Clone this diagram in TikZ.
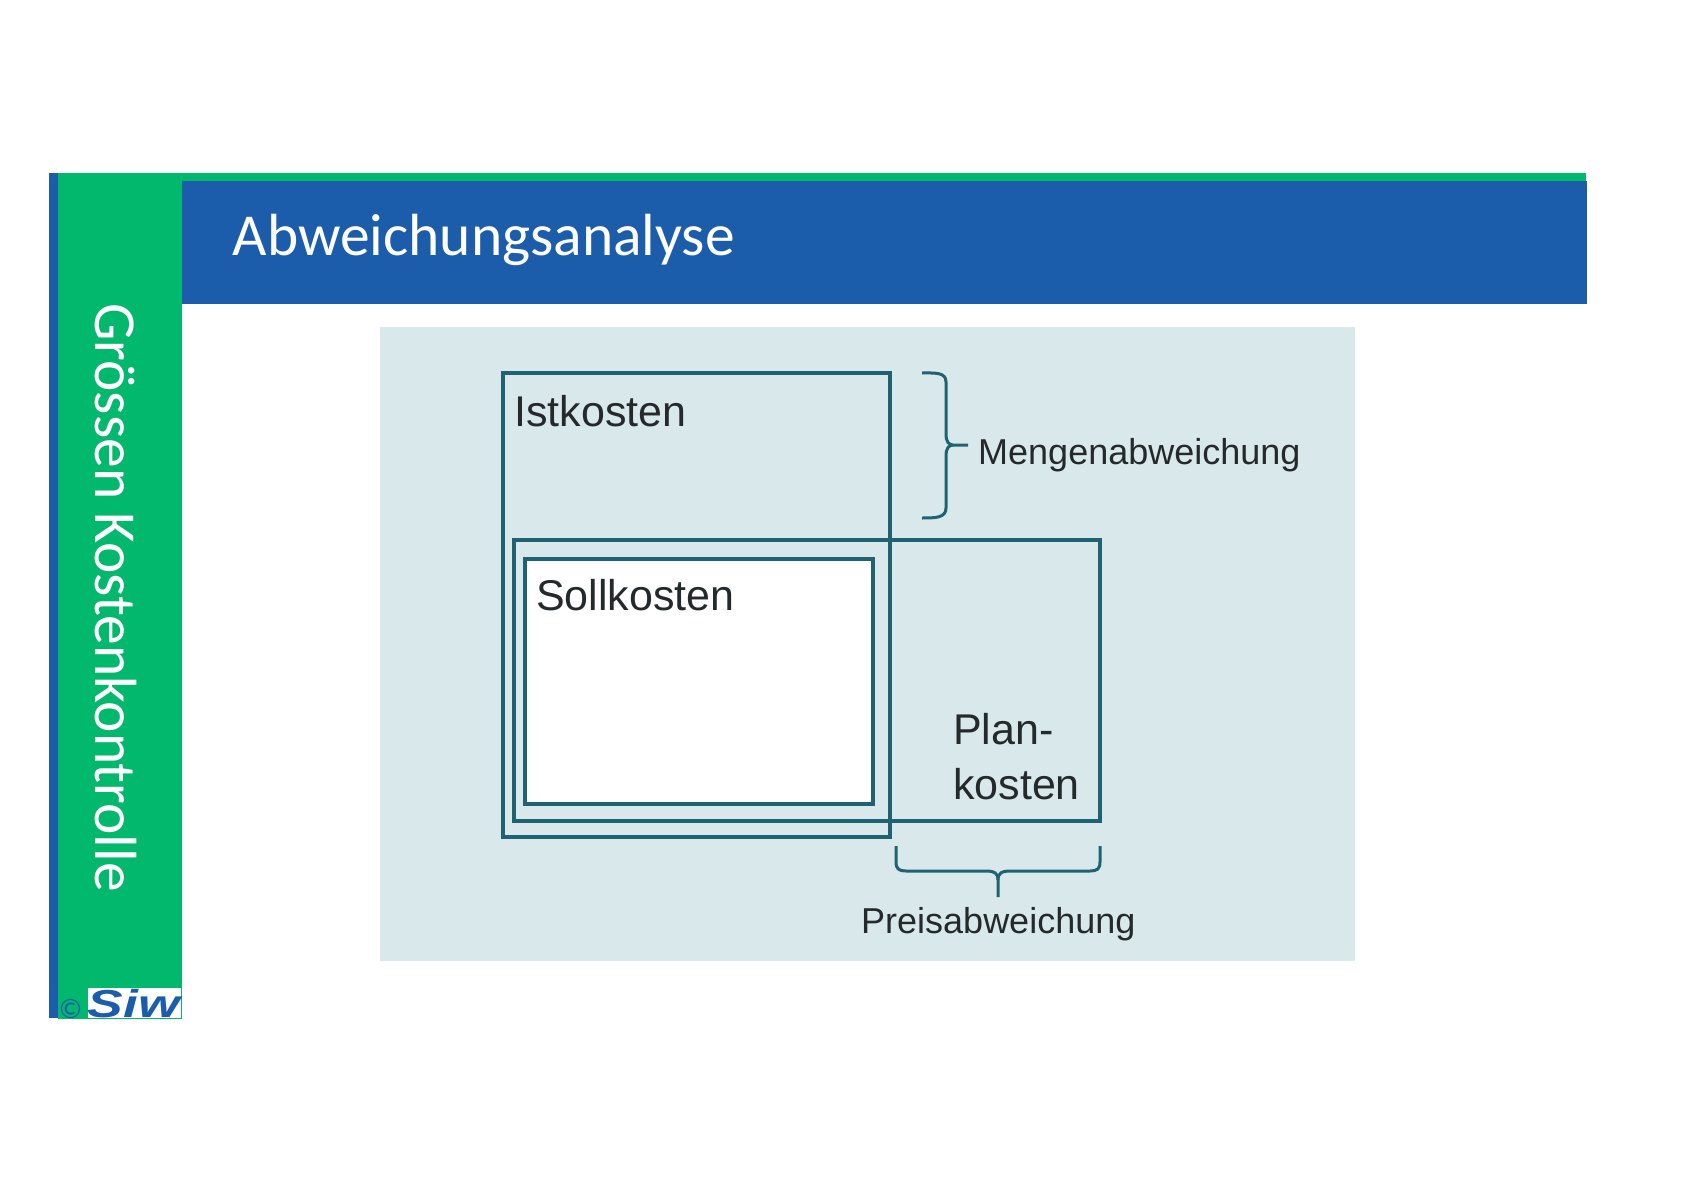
\documentclass[tikz,border=0pt]{standalone}
\usepackage{fontspec}
\setmainfont{Carlito}
\newfontfamily\figfont{Liberation Sans}
\definecolor{siwblue}{HTML}{1B5CAB}
\definecolor{siwgreen}{HTML}{02B86C}
\definecolor{figback}{HTML}{D9E9EB}
\definecolor{figline}{HTML}{1F6373}
\definecolor{figtext}{HTML}{24292C}
\tikzset{
  costbox/.style={draw=figline,line width=3.3pt,line join=miter},
  bracket/.style={draw=figline,line width=3pt},
  headtext/.style={text=white,inner sep=0pt,font=\fontsize{59.5}{60}\selectfont},
  costtext/.style={text=figtext,inner sep=0pt,anchor=base west,font=\figfont\fontsize{43}{43}\selectfont},
  bracetext/.style={text=figtext,inner sep=0pt,anchor=base west,font=\figfont\fontsize{36}{36}\selectfont}
}

\begin{document}
\begin{tikzpicture}[x=1pt,y=-1pt]
  \useasboundingbox (0,0) rectangle (1683,1190);
  \fill[white] (0,0) rectangle (1683,1190);
  % frame
  \fill[siwgreen] (58,173) rectangle (182,1019);
  \fill[siwblue] (49,173) rectangle (58,1018);
  \fill[siwgreen] (182,173) rectangle (1586,181);
  \fill[siwblue] (182,181) rectangle (1587,304);
  \node (title) [headtext,anchor=base west] at (232.5,256) {Abweichungsanalyse};
  \node (side) [headtext,anchor=base west,rotate=-90] at (95,303) {Grössen Kostenkontrolle};
  % logo
  \fill[white] (87.5,988) rectangle (181,1018);
  \node (copy) [inner sep=0pt,text=siwblue,font=\fontsize{28}{28}\selectfont] at (70.5,1009) {©};
  \node (logo) [inner sep=0pt,text=siwblue,anchor=center] at (134,1004)
    {\scalebox{1.37}[1]{\figfont\bfseries\itshape\fontsize{39}{39}\selectfont Siw}};
  % figure
  \fill[figback] (380,327) rectangle (1355,961);
  \draw[costbox] (503,373) rectangle (890,837);
  \draw[costbox] (514,540) rectangle (1100,821);
  \draw[costbox,fill=white,line width=4pt] (525,559) rectangle (873,804);
  \node (ist) [costtext] at (514,426) {Istkosten};
  \node (soll) [costtext] at (536,610) {Sollkosten};
  \node (plan) [costtext] at (953,744) {Plan-};
  \node (kosten) [costtext] at (953,799) {kosten};
  \node (menge) [bracetext] at (978,464) {Mengenabweichung};
  \node (preis) [bracetext] at (861,933) {Preisabweichung};
  % braces
  \coordinate (mengetip) at (968,445);
  \coordinate (preistip) at (998,897);
  \draw[bracket] (922,373) .. controls (935,373) and (946,372) .. (946,382)
    -- (946,434) .. controls (946,442) and (949,445) .. (953,445) -- (mengetip);
  \draw[bracket] (953,445) .. controls (949,445) and (946,448) .. (946,456)
    -- (946,508) .. controls (946,518) and (935,518) .. (922,518);
  \draw[bracket] (896,846) -- (896,862) .. controls (896,869) and (899,871) .. (906,871)
    -- (987,871) .. controls (994,871) and (998,873) .. (998,880) -- (preistip);
  \draw[bracket] (998,880) .. controls (998,873) and (1002,871) .. (1009,871)
    -- (1090,871) .. controls (1097,871) and (1100,869) .. (1100,862) -- (1100,846);
\end{tikzpicture}
\end{document}
